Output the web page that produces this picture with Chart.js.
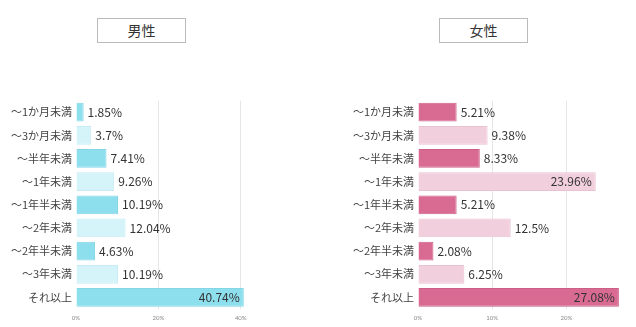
<!DOCTYPE html>
<html>
<head>
<meta charset="utf-8">
<script src="https://cdn.jsdelivr.net/npm/chart.js@4"></script>
<style>
  body { margin: 0; background: #fff; font-family: "Noto Sans CJK JP", sans-serif; }
  .wrap { position: relative; width: 636px; height: 327px; }
  .title {
    position: absolute; top: 18px; width: 87px; height: 23px;
    border: 1px solid #bbb; text-align: center; line-height: 23px;
    font-size: 14px; color: #333;
  }
  .panel { position: absolute; top: 90px; width: 318px; height: 237px; }
</style>
</head>
<body>
<div class="wrap">
  <div class="title" style="left:97px">男性</div>
  <div class="title" style="left:439px">女性</div>
  <div class="panel" style="left:0"><canvas id="maleChart"></canvas></div>
  <div class="panel" style="left:318px"><canvas id="femaleChart"></canvas></div>
</div>
<script>
// Categories (same for both charts)
const categories = ['～1か月未満', '～3か月未満', '～半年未満', '～1年未満', '～1年半未満', '～2年未満', '～2年半未満', '～3年未満', 'それ以上'];

// Percentages
const maleValues = [1.85, 3.7, 7.41, 9.26, 10.19, 12.04, 4.63, 10.19, 40.74];
const femaleValues = [5.21, 9.38, 8.33, 23.96, 5.21, 12.5, 2.08, 6.25, 27.08];

// X axis tick values
const maleTicks = [0, 20, 40];
const femaleTicks = [0, 10, 20];

// Colours, alternating dark / light per row
const maleColors = ['#8edfee', '#d4f4f9'];
const maleBorders = ['#82d6e6', '#c6ecf3'];
const femaleColors = ['#d96b93', '#f2cfdc'];
const femaleBorders = ['#cc5f87', '#e9c2d1'];

// Draws the value labels at the end of each bar
const valueLabels = {
    id: 'valueLabels',
    afterDatasetsDraw(chart) {
        const ctx = chart.ctx;
        const meta = chart.getDatasetMeta(0);
        const data = chart.data.datasets[0].data;
        const max = chart.scales.x.max;
        ctx.save();
        ctx.font = '12px "Noto Sans CJK JP", sans-serif';
        ctx.fillStyle = '#333';
        ctx.textBaseline = 'middle';
        meta.data.forEach((bar, i) => {
            const label = data[i] + '%';
            if (data[i] / max > 0.7) {
                ctx.textAlign = 'right';
                ctx.fillText(label, bar.x - 4, bar.y);
            } else {
                ctx.textAlign = 'left';
                ctx.fillText(label, bar.x + 4, bar.y);
            }
        });
        ctx.restore();
    }
};

function makeChart(id, values, colors, borders, max, tickValues, yWidth, padRight) {
    new Chart(document.getElementById(id).getContext('2d'), {
        type: 'bar',
        data: {
            labels: categories,
            datasets: [{
                data: values,
                backgroundColor: values.map((_, i) => colors[i % 2]),
                borderColor: values.map((_, i) => borders[i % 2]),
                borderWidth: 1,
                barPercentage: 0.81,
                categoryPercentage: 1
            }]
        },
        options: {
            indexAxis: 'y',
            responsive: true,
            maintainAspectRatio: false,
            animation: false,
            layout: {
                padding: { top: 8, right: padRight, left: 0, bottom: 0 }
            },
            plugins: {
                legend: { display: false },
                tooltip: { enabled: false }
            },
            scales: {
                x: {
                    min: 0,
                    max: max,
                    afterBuildTicks: scale => {
                        scale.ticks = tickValues.map(v => ({ value: v }));
                    },
                    afterFit: scale => { scale.height = 18; },
                    border: { display: false },
                    grid: {
                        color: ctx => ctx.tick && ctx.tick.value === 0 ? 'rgba(0,0,0,0)' : '#e6e6e6',
                        drawTicks: false
                    },
                    ticks: {
                        autoSkip: false,
                        maxRotation: 0,
                        padding: 5,
                        color: '#888',
                        font: { size: 6, family: 'Lato' },
                        callback: v => v + '%'
                    }
                },
                y: {
                    afterFit: scale => { scale.width = yWidth; },
                    border: { display: false },
                    grid: { display: false, drawTicks: false },
                    ticks: {
                        padding: 4,
                        color: '#444',
                        font: { size: 11, family: '"Noto Sans CJK JP"' }
                    }
                }
            }
        },
        plugins: [valueLabels]
    });
}

document.addEventListener('DOMContentLoaded', function() {
    makeChart('maleChart', maleValues, maleColors, maleBorders, 42, maleTicks, 76, 69);
    makeChart('femaleChart', femaleValues, femaleColors, femaleBorders, 27.5, femaleTicks, 100, 14);
});
</script>
</body>
</html>
